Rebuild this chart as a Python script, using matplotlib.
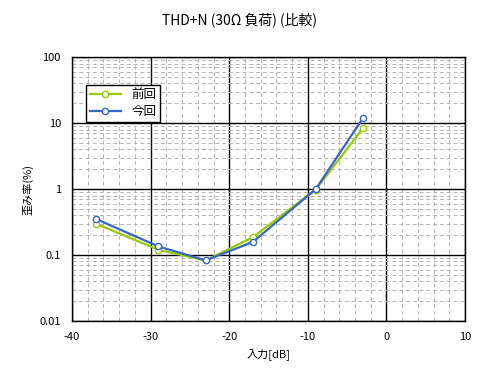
import matplotlib
matplotlib.use("Agg")
import matplotlib.pyplot as plt
from matplotlib.ticker import LogLocator, FuncFormatter, MultipleLocator

plt.rcParams['font.family'] = ['Noto Sans CJK JP', 'DejaVu Sans']
plt.rcParams['font.size'] = 8

# input level [dB] vs THD+N [%]
levels = [-37, -29, -23, -17, -9, -3]
prev_thd = [0.30, 0.12, 0.083, 0.187, 0.98, 8.4]
curr_thd = [0.355, 0.135, 0.083, 0.158, 1.0, 11.9]

fig = plt.figure(figsize=(4.8, 3.84), dpi=100)
ax = fig.add_axes([0.15, 0.164, 0.819, 0.687])

ax.plot(levels, prev_thd, color='#99cc00', lw=1.6, marker='o', ms=4.5,
        mfc='white', mec='#99cc00', mew=1, label='前回')
ax.plot(levels, curr_thd, color='#3366cc', lw=1.6, marker='o', ms=4.5,
        mfc='white', mec='#3366cc', mew=1, label='今回')

ax.set_yscale('log')
ax.set_xlim(-40, 10)
ax.set_ylim(0.01, 100)
ax.xaxis.set_major_locator(MultipleLocator(10))
ax.xaxis.set_minor_locator(MultipleLocator(2))
ax.yaxis.set_major_locator(LogLocator(base=10))
ax.yaxis.set_minor_locator(LogLocator(base=10, subs=range(2, 10)))
ax.yaxis.set_major_formatter(FuncFormatter(lambda v, p: '%g' % v))
ax.yaxis.set_minor_formatter(FuncFormatter(lambda v, p: ''))
ax.xaxis.set_major_formatter(FuncFormatter(lambda v, p: '%d' % v))

ax.grid(which='major', color='black', lw=1, ls='-')
ax.grid(which='minor', color='#b4b4b4', lw=0.7, ls=(0, (4, 3)))
ax.set_axisbelow(True)
ax.tick_params(which='both', length=0, pad=8)
for s in ax.spines.values():
    s.set_color('black')
    s.set_linewidth(1)

ax.set_xlabel('入力[dB]', labelpad=4)
ax.set_ylabel('歪み率(%)', labelpad=4)
fig.text(0.5, 1 - 20 / 384, 'THD+N (30Ω 負荷) (比較)', ha='center', va='center',
         fontsize=10)

leg = ax.legend(loc='upper left', bbox_to_anchor=(0.02, 0.92), fancybox=False,
                edgecolor='black', framealpha=1, borderpad=0.3,
                handlelength=2.5, labelspacing=0.3, fontsize=9)
leg.get_frame().set_linewidth(1)

plt.savefig('out.png', dpi=100)
